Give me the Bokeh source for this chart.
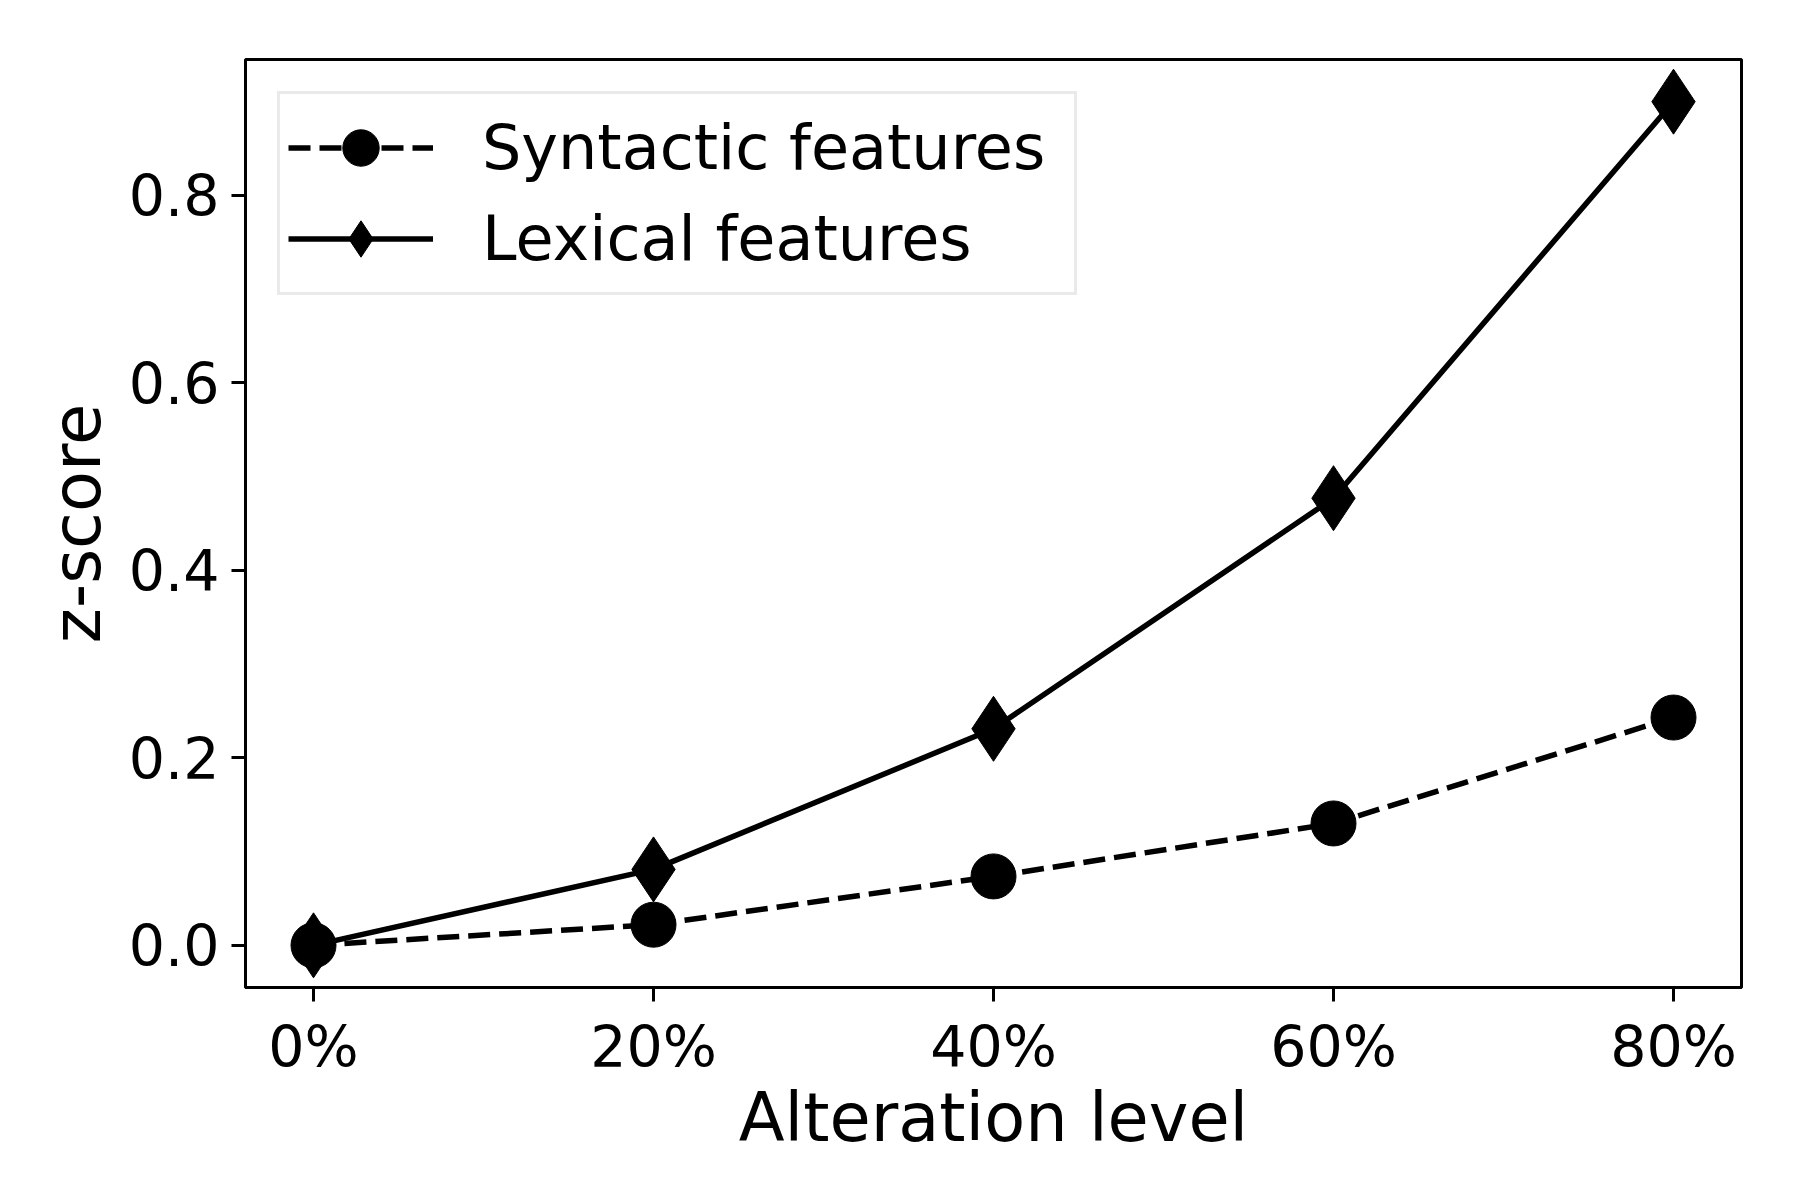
from bokeh.plotting import figure
from bokeh.models import Range1d, FixedTicker, PrintfTickFormatter, Legend, LegendItem, ColumnDataSource
from bokeh.embed import file_html
from bokeh.resources import INLINE

# ---- data ----
levels = [0, 20, 40, 60, 80]
level_labels = ["0%", "20%", "40%", "60%", "80%"]
syntactic = [0.0, 0.022, 0.0735, 0.130, 0.243]
lexical = [0.0, 0.081, 0.231, 0.477, 0.900]
y_ticks = [0.0, 0.2, 0.4, 0.6, 0.8]

FONT = "DejaVu Sans"

p = figure(
    output_backend="svg", toolbar_location=None,
    frame_width=1496, frame_height=928,
    min_border_left=245, min_border_top=59, min_border_right=45, min_border_bottom=150,
    x_range=Range1d(-4, 84), y_range=Range1d(-0.045, 0.945),
    background_fill_color="white", border_fill_color="white",
)

p.xgrid.visible = False
p.ygrid.visible = False
p.outline_line_color = "black"
p.outline_line_width = 3
p.outline_line_alpha = 1.0

src = ColumnDataSource(dict(x=levels, syn=syntactic, lex=lexical))

l1 = p.line("x", "syn", source=src, line_color="black", line_width=5.5, line_dash="22 9")
s1 = p.scatter("x", "syn", source=src, marker="circle", size=45, fill_color="black", line_color="black")
l2 = p.line("x", "lex", source=src, line_color="black", line_width=5.5)
s2 = p.scatter("x", "lex", source=src, marker="diamond", size=65, fill_color="black", line_color="black")

# axes
p.xaxis.ticker = FixedTicker(ticks=levels)
p.xaxis.major_label_overrides = {lv: lab for lv, lab in zip(levels, level_labels)}
p.yaxis.ticker = FixedTicker(ticks=y_ticks)
p.yaxis.formatter = PrintfTickFormatter(format="%.1f")

for ax in (p.xaxis, p.yaxis):
    ax.axis_line_color = "black"
    ax.axis_line_width = 3
    ax.major_tick_line_color = "black"
    ax.major_tick_line_width = 3
    ax.major_tick_out = 14
    ax.major_tick_in = 0
    ax.minor_tick_line_color = None
    ax.major_label_text_font = FONT
    ax.major_label_text_font_size = "57px"
    ax.major_label_text_color = "black"
    ax.major_label_standoff = 12
    ax.axis_label_text_font = FONT
    ax.axis_label_text_font_size = "67px"
    ax.axis_label_text_font_style = "normal"
    ax.axis_label_text_color = "black"

p.xaxis.axis_label = "Alteration level"
p.yaxis.axis_label = "z-score"
p.xaxis.axis_label_standoff = -4
p.yaxis.axis_label_standoff = 10

legend = Legend(
    items=[
        LegendItem(label="Syntactic features", renderers=[l1, s1]),
        LegendItem(label="Lexical features", renderers=[l2, s2]),
    ],
    location="top_left",
    margin=32,
    padding=8,
    spacing=0,
    glyph_width=145,
    glyph_height=91,
    label_standoff=49,
    label_width=584,
    label_text_font=FONT,
    label_text_font_size="62px",
    label_text_color="black",
    border_line_color="#d6d6d6",
    border_line_width=3,
    background_fill_color="white",
    background_fill_alpha=0.8,
)
p.add_layout(legend)

html = file_html(p, INLINE)
with open("out.html", "w") as f:
    f.write(html)
